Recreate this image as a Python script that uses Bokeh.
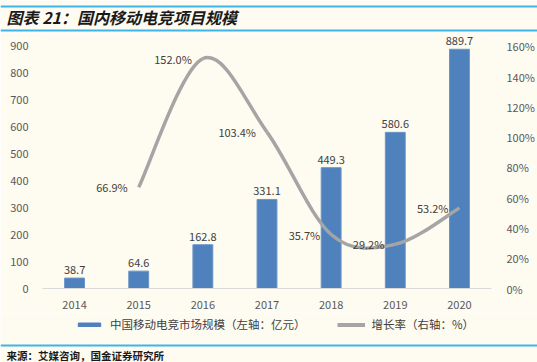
from bokeh.plotting import figure
from bokeh.layouts import column
from bokeh.models import (Range1d, LinearAxis, FixedTicker, Label, Span,
                          Legend, LegendItem, PrintfTickFormatter)
from bokeh.core.properties import value
from bokeh.embed import file_html
from bokeh.resources import INLINE

# ---------------- data ----------------
years = [2014, 2015, 2016, 2017, 2018, 2019, 2020]
market_size = [38.7, 64.6, 162.8, 331.1, 449.3, 580.6, 889.7]
growth_years = [2015, 2016, 2017, 2018, 2019, 2020]
growth_rate = [66.9, 152.0, 103.4, 35.7, 29.2, 53.2]
left_ticks = [0, 100, 200, 300, 400, 500, 600, 700, 800, 900]
right_ticks = [0, 20, 40, 60, 80, 100, 120, 140, 160]
title_text = "图表 21：国内移动电竞项目规模"
source_text = "来源：艾媒咨询，国金证券研究所"
bar_legend = "中国移动电竞市场规模（左轴：亿元）"
line_legend = "增长率（右轴：%）"

FONT = "Noto Sans CJK SC"
BG = "#FEFBF1"
BLUE = "#4F81BD"
GRAY = "#A5A5A5"
RULE = "#3DB5E9"
TXT = "#404040"

W = 537
H_TOP, H_MAIN, H_BOT = 32, 280, 50


def blank(h):
    f = figure(width=W, height=h, x_range=Range1d(0, W), y_range=Range1d(h, 0),
               x_axis_type=None, y_axis_type=None, output_backend="svg",
               toolbar_location=None, min_border=0, frame_align=False)
    f.background_fill_color = BG
    f.border_fill_color = BG
    f.outline_line_color = None
    f.grid.visible = False
    return f


# ---------------- header ----------------
top = blank(H_TOP)
top.add_layout(Span(location=6, dimension="width", line_color=RULE, line_width=2))
top.add_layout(Span(location=30, dimension="width", line_color=RULE, line_width=2))
top.add_layout(Label(x=6, y=16, text=title_text, text_font=FONT, text_font_size="16px",
                     text_font_style="bold italic", text_color="#1A1A1A",
                     text_baseline="middle", text_align="left"))

# ---------------- main chart ----------------
left_max = 952
right_max = left_max * 160 / 900

p = figure(width=W, height=H_MAIN, x_range=Range1d(2013.5, 2020.5), y_range=Range1d(0, left_max),
           output_backend="svg", toolbar_location=None, frame_align=False,
           min_border_left=42, min_border_right=46, min_border_top=0, min_border_bottom=24)
p.background_fill_color = BG
p.border_fill_color = BG
p.outline_line_color = None
p.xgrid.visible = False
p.ygrid.visible = False

p.xaxis.ticker = FixedTicker(ticks=years)
p.xaxis.axis_line_color = "#D9D9D9"
p.xaxis.axis_line_width = 1
p.xaxis.major_tick_line_color = None
p.xaxis.minor_tick_line_color = None
p.xaxis.major_label_standoff = 6
p.xaxis.major_label_text_font = FONT
p.xaxis.major_label_text_font_size = "11px"
p.xaxis.major_label_text_color = "#595959"

p.yaxis.ticker = FixedTicker(ticks=left_ticks)
p.yaxis.axis_line_color = None
p.yaxis.major_tick_line_color = None
p.yaxis.minor_tick_line_color = None
p.yaxis.major_label_standoff = 8
p.yaxis.major_label_text_font = FONT
p.yaxis.major_label_text_font_size = "11px"
p.yaxis.major_label_text_color = "#595959"

p.extra_y_ranges = {"pct": Range1d(0, right_max)}
ax = LinearAxis(y_range_name="pct", ticker=FixedTicker(ticks=right_ticks),
                formatter=PrintfTickFormatter(format="%d%%"))
ax.axis_line_color = None
ax.major_tick_line_color = None
ax.minor_tick_line_color = None
ax.major_label_standoff = 9
ax.major_label_text_font = FONT
ax.major_label_text_font_size = "11px"
ax.major_label_text_color = "#595959"
p.add_layout(ax, "right")

p.vbar(x=years, top=market_size, width=0.31, fill_color=BLUE, line_color="#6A95C8", line_width=1)
p.text(x=years, y=market_size, text=[f"{v:.1f}" for v in market_size],
       text_align="center", text_baseline="bottom", y_offset=-4,
       text_font=value(FONT), text_font_size="11px", text_color=TXT)

# smoothed growth line: cubic bezier segments through the data points (Catmull-Rom tangents)
n = len(growth_years)
pts = list(zip(growth_years, growth_rate))
x0, y0, x1, y1, cx0, cy0, cx1, cy1 = [], [], [], [], [], [], [], []
for i in range(n - 1):
    pm = pts[max(i - 1, 0)]
    pa = pts[i]
    pb = pts[i + 1]
    pn = pts[min(i + 2, n - 1)]
    x0.append(pa[0]); y0.append(pa[1])
    x1.append(pb[0]); y1.append(pb[1])
    cx0.append(pa[0] + (pb[0] - pm[0]) / 6); cy0.append(pa[1] + (pb[1] - pm[1]) / 6)
    cx1.append(pb[0] - (pn[0] - pa[0]) / 6); cy1.append(pb[1] - (pn[1] - pa[1]) / 6)
p.bezier(x0=x0, y0=y0, x1=x1, y1=y1, cx0=cx0, cy0=cy0, cx1=cx1, cy1=cy1,
         line_color=GRAY, line_width=3.5, y_range_name="pct")
p.text(x=growth_years, y=growth_rate, text=[f"{v:.1f}%" for v in growth_rate],
       text_align="right", text_baseline="middle", x_offset=-11, y_range_name="pct",
       text_font=value(FONT), text_font_size="11px", text_color=TXT)

# ---------------- footer: legend, rule, source ----------------
bot = blank(H_BOT)
# legend proxies carry the same series (they fall outside this strip's ranges, hidden)
leg_bar = bot.vbar(x=years, top=market_size, width=1, fill_color=BLUE, line_color=BLUE, visible=False)
leg_line = bot.line(x=growth_years, y=growth_rate, line_color=GRAY, line_width=4, visible=False)
legend = Legend(items=[LegendItem(label=bar_legend, renderers=[leg_bar]),
                       LegendItem(label=line_legend, renderers=[leg_line])],
                orientation="horizontal", location=(75, 30),
                glyph_width=28, glyph_height=5, label_standoff=7, spacing=31,
                padding=0, margin=0, background_fill_alpha=0, border_line_color=None,
                label_height=12,
                label_text_font=FONT, label_text_font_size="11.5px", label_text_color=TXT)
bot.add_layout(legend, "center")
bot.add_layout(Span(location=33, dimension="width", line_color=RULE, line_width=2))
bot.add_layout(Label(x=6, y=43, text=source_text, text_font=FONT, text_font_size="10.5px",
                     text_font_style="bold", text_color="#1A1A1A",
                     text_baseline="middle", text_align="left"))

page = column(top, p, bot, spacing=0)
open("out.html", "w").write(file_html(page, INLINE))
